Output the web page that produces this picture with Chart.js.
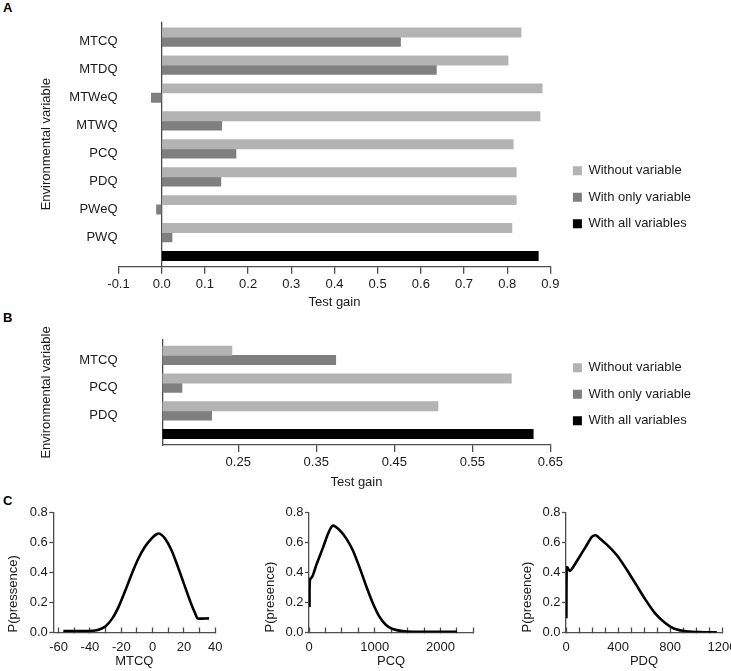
<!DOCTYPE html>
<html>
<head>
<meta charset="utf-8">
<script src="https://cdn.jsdelivr.net/npm/chart.js@4.4.1/dist/chart.umd.min.js"></script>
<style>
  html, body { margin: 0; padding: 0; background: #fff; overflow: hidden; width: 731px; height: 671px; }
  canvas { position: absolute; }
  .tag { position: absolute; font: bold 13px Arial, "Liberation Sans", Helvetica, sans-serif; line-height: 13px; color: #000; }
</style>
</head>
<body>
<div class="tag" style="left:3px;top:1px">A</div>
<div class="tag" style="left:3px;top:311px">B</div>
<div class="tag" style="left:3px;top:494px">C</div>
<canvas id="chartA" width="731" height="312" style="left:0;top:0"></canvas>
<canvas id="chartB" width="731" height="171" style="left:0;top:320px"></canvas>
<canvas id="chartC1" width="236" height="171" style="left:0;top:500px"></canvas>
<canvas id="chartC2" width="240" height="171" style="left:250px;top:500px"></canvas>
<canvas id="chartC3" width="260" height="171" style="left:490px;top:500px"></canvas>
<script>
// panel A: full model
var rowsA = ['MTCQ', 'MTDQ', 'MTWeQ', 'MTWQ', 'PCQ', 'PDQ', 'PWeQ', 'PWQ', ''];
var withoutA = [0.832, 0.802, 0.881, 0.876, 0.814, 0.821, 0.821, 0.811, null];
var onlyA = [0.553, 0.636, -0.024, 0.139, 0.172, 0.137, -0.012, 0.024, null];
var allA = [null, null, null, null, null, null, null, null, 0.872];
var ticksA = [-0.1, 0, 0.1, 0.2, 0.3, 0.4, 0.5, 0.6, 0.7, 0.8, 0.9];

// panel B: reduced model
var rowsB = ['MTCQ', 'PCQ', 'PDQ', ''];
var withoutB = [0.242, 0.600, 0.506, null];
var onlyB = [0.375, 0.178, 0.216, null];
var allB = [null, null, null, 0.628];
var ticksB = [0.25, 0.35, 0.45, 0.55, 0.65];

// panel C: response curves
var mtcqX = [-57, -45, -38, -34, -30, -25.7, -21.5, -17.3, -13.2, -9, -4.8, -0.6, 2.5, 4.7, 7.8, 12, 16.1, 20.3, 24.5, 27.6, 28.7, 36];
var mtcqY = [0.01, 0.01, 0.012, 0.02, 0.042, 0.094, 0.176, 0.283, 0.394, 0.495, 0.573, 0.628, 0.655, 0.658, 0.628, 0.55, 0.439, 0.316, 0.194, 0.116, 0.094, 0.094];
var mtcqTicks = [-60, -50, -40, -30, -20, -10, 0, 10, 20, 30, 40];
var mtcqLabels = [-60, -40, -20, 0, 20, 40];

var pcqX = [8, 14, 55, 116, 216, 291, 360, 467, 568, 668, 769, 870, 970, 1071, 1172, 1272, 1423, 1574, 2253];
var pcqY = [0.17, 0.35, 0.377, 0.456, 0.569, 0.66, 0.712, 0.682, 0.626, 0.547, 0.434, 0.31, 0.197, 0.106, 0.05, 0.023, 0.009, 0.005, 0.005];
var pcqTicks = [0, 250, 500, 750, 1000, 1250, 1500, 1750, 2000, 2250, 2500];
var pcqLabels = [0, 1000, 2000];

var pdqX = [3, 5, 10, 29, 53, 102, 150, 199, 230, 247, 320, 393, 465, 538, 611, 684, 756, 829, 926, 1050, 1160];
var pdqY = [0.095, 0.434, 0.434, 0.411, 0.434, 0.502, 0.569, 0.637, 0.648, 0.637, 0.581, 0.513, 0.422, 0.321, 0.219, 0.129, 0.068, 0.027, 0.008, 0.002, 0.001];
var pdqTicks = [0, 100, 200, 300, 400, 500, 600, 700, 800, 900, 1000, 1100, 1200];
var pdqLabels = [0, 400, 800, 1200];

var probTicks = [0, 0.2, 0.4, 0.6, 0.8];

var LIGHT = '#b3b3b3';
var DARK = '#7f7f7f';
var BLACK = '#000000';
var AX = '#4d4d4d';
var TXT = '#1a1a1a';
var NONE = 'rgba(0,0,0,0)';

Chart.defaults.font.family = 'Arial, "Liberation Sans", Helvetica, sans-serif';
Chart.defaults.font.size = 13;
Chart.defaults.color = TXT;
Chart.defaults.animation = false;
Chart.defaults.events = [];
Chart.defaults.plugins.tooltip.enabled = false;

function tickList(values) {
    return function (scale) {
        scale.ticks = values.map(function (v) { return {value: v}; });
    };
}

function makeBars(id, rows, without, only, all, xMin, xMax, xTicks, digits, o) {
    return new Chart(document.getElementById(id), {
        type: 'bar',
        data: {
            labels: rows.map(function (r, i) { return i; }),
            datasets: [
                {label: 'Without variable', data: without, backgroundColor: LIGHT, stack: 'g1'},
                {label: 'With only variable', data: only, backgroundColor: DARK, stack: 'g2'},
                {label: 'With all variables', data: all, backgroundColor: BLACK, stack: 'g1'},
                {label: '', data: [], backgroundColor: NONE, stack: 'g3'}
            ]
        },
        options: {
            indexAxis: 'y',
            responsive: false,
            datasets: {bar: {categoryPercentage: 1, barPercentage: 1, borderWidth: 0}},
            layout: {padding: {left: 0, top: o.top, right: 30, bottom: o.bottom}},
            scales: {
                x: {
                    type: 'linear', min: xMin, max: xMax,
                    afterBuildTicks: tickList(xTicks),
                    afterFit: function (s) { s.height = o.xHeight; },
                    ticks: {
                        autoSkip: false, maxRotation: 0, padding: 2.5,
                        callback: function (v) { return v.toFixed(digits); }
                    },
                    grid: {
                        drawOnChartArea: o.zeroLine, tickLength: 7, tickColor: AX, lineWidth: 1.3,
                        color: function (ctx) { return ctx.tick && ctx.tick.value === 0 ? AX : NONE; }
                    },
                    border: {display: true, color: AX, width: 1.3},
                    title: {display: true, text: 'Test gain', padding: {top: o.titleGap, bottom: 0}}
                },
                y: {
                    type: 'linear', reverse: true, offset: false, min: -0.72, max: o.yMax,
                    afterBuildTicks: tickList(rows.map(function (r, i) { return i; })),
                    afterFit: function (s) { s.width = o.yWidth; },
                    ticks: {autoSkip: false, padding: 1, callback: function (v) { return rows[v]; }},
                    grid: {display: true, drawOnChartArea: false, tickLength: o.yGap, tickColor: NONE},
                    border: {display: o.yBorder, color: AX, width: 1.3},
                    title: {display: true, text: 'Environmental variable', padding: {top: 38.2, bottom: 0}}
                },
                gap: {
                    type: 'linear', position: 'right',
                    afterFit: function (s) { s.width = 9; },
                    ticks: {display: false},
                    grid: {display: false, drawTicks: false},
                    border: {display: false}
                }
            },
            plugins: {
                legend: {
                    position: 'right', align: 'start', maxWidth: 220,
                    title: {display: true, text: '', font: {size: 1}, padding: {top: o.legendTop, bottom: 0}},
                    labels: {
                        boxWidth: 9, boxHeight: 9, padding: 13.5, color: TXT,
                        filter: function (item) { return item.text !== ''; }
                    }
                }
            }
        }
    });
}

function makeCurve(id, xs, ys, xMin, xMax, xTicks, xLabels, xTitle, yTitle, o) {
    return new Chart(document.getElementById(id), {
        type: 'line',
        data: {
            datasets: [{
                data: xs.map(function (x, i) { return {x: x, y: ys[i]}; }),
                borderColor: '#000', borderWidth: 2.6, pointRadius: 0, tension: 0.25, fill: false
            }]
        },
        options: {
            responsive: false,
            layout: {padding: {left: 0, top: 12.5, right: o.right, bottom: 3.5}},
            scales: {
                x: {
                    type: 'linear', min: xMin, max: xMax,
                    afterBuildTicks: tickList(xTicks),
                    afterFit: function (s) { s.height = 35; },
                    ticks: {
                        autoSkip: false, maxRotation: 0, padding: 13.5, font: {lineHeight: 1},
                        callback: function (v) { return xLabels.indexOf(v) >= 0 ? String(v) : ''; }
                    },
                    grid: {drawOnChartArea: false, tickLength: -5, tickColor: AX, tickWidth: 1.3},
                    border: {color: AX, width: 1.3},
                    title: {display: true, text: xTitle, font: {lineHeight: 1}, padding: {top: 0.5, bottom: 0}}
                },
                y: {
                    type: 'linear', min: 0, max: 0.8,
                    afterBuildTicks: tickList(probTicks),
                    afterFit: function (s) { s.width = o.yWidth; },
                    ticks: {padding: 1.5, callback: function (v) { return v.toFixed(1); }},
                    grid: {drawOnChartArea: false, tickLength: 4, tickColor: AX, tickWidth: 1.3},
                    border: {color: AX, width: 1.3},
                    title: {display: true, text: yTitle, align: 'start', padding: {top: o.yTitlePad, bottom: 0}}
                }
            },
            plugins: {legend: {display: false}}
        }
    });
}

makeBars('chartA', rowsA, withoutA, onlyA, allA, -0.1, 0.9, ticksA, 1,
    {top: 21.7, bottom: 1.7, xHeight: 43.6, yMax: 8.05, yWidth: 118.5, yGap: 0, yBorder: false,
     zeroLine: true, titleGap: 2.9, legendTop: 127.8});
makeBars('chartB', rowsB, withoutB, onlyB, allB, 0.153, 0.65, ticksB, 2,
    {top: 20, bottom: 0.6, xHeight: 45.4, yMax: 3.06, yWidth: 162.5, yGap: 44, yBorder: true,
     zeroLine: false, titleGap: 4.7, legendTop: 6.5});

makeCurve('chartC1', mtcqX, mtcqY, -63.4, 40, mtcqTicks, mtcqLabels, 'MTCQ', 'P(pressence)', {right: 18, yWidth: 53.3, yTitlePad: 5.2});
makeCurve('chartC2', pcqX, pcqY, 0, 2500, pcqTicks, pcqLabels, 'PCQ', 'P(presence)', {right: 16.7, yWidth: 59, yTitlePad: 12.2});
makeCurve('chartC3', pdqX, pdqY, 0, 1200, pdqTicks, pdqLabels, 'PDQ', 'P(presence)', {right: 20, yWidth: 76, yTitlePad: 29.2});
</script>
</body>
</html>
